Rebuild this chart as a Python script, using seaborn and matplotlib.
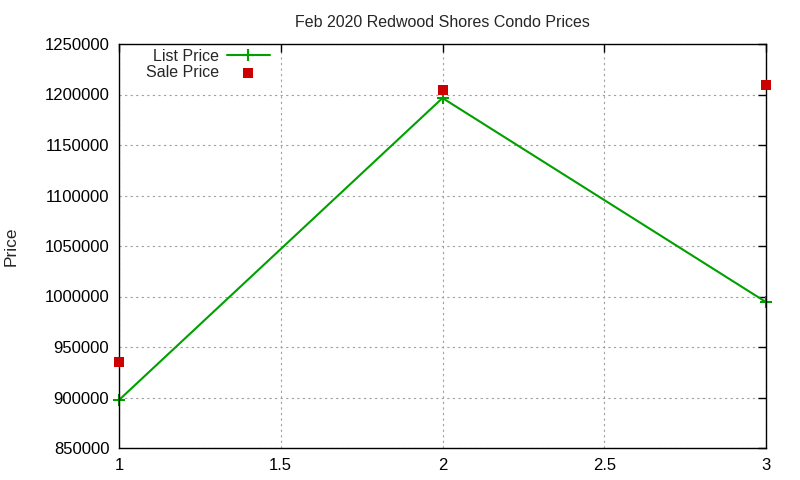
import matplotlib
matplotlib.use("Agg")
import matplotlib.pyplot as plt
import seaborn as sns
import pandas as pd
from matplotlib.ticker import FixedLocator, FuncFormatter

sns.set_style("white")
plt.rcParams['font.family'] = ['Liberation Sans', 'DejaVu Sans']

x_vals = [1, 2, 3]
list_price = [897500, 1196500, 994500]
sale_price = [935000, 1204000, 1209500]
title = "Feb 2020 Redwood Shores Condo Prices"
y_ticks = [850000, 900000, 950000, 1000000, 1050000, 1100000, 1150000, 1200000, 1250000]
x_ticks = [1, 1.5, 2, 2.5, 3]
x_tick_labels = ["1", "1.5", "2", "2.5", "3"]

df_list = pd.DataFrame({"x": x_vals, "price": list_price})
df_sale = pd.DataFrame({"x": x_vals, "price": sale_price})

fig = plt.figure(figsize=(8, 4.8), dpi=100)
ax = fig.add_axes([119/800, 1-448/480, (766-119)/800, (448-44)/480])

green = "#00a000"
red = "#cc0000"
sns.lineplot(data=df_list, x="x", y="price", ax=ax, color=green, linewidth=1.5,
             marker="+", markersize=8, markeredgewidth=1.5, markeredgecolor=green,
             label="List Price", clip_on=False)
sns.scatterplot(data=df_sale, x="x", y="price", ax=ax, color=red, marker="s", s=45,
                edgecolor=red, linewidth=0, label="Sale Price", clip_on=False, zorder=5)

ax.set_xlim(1, 3)
ax.set_ylim(850000, 1250000)
ax.xaxis.set_major_locator(FixedLocator(x_ticks))
ax.set_xticklabels(x_tick_labels)
ax.yaxis.set_major_locator(FixedLocator(y_ticks))
ax.yaxis.set_major_formatter(FuncFormatter(lambda v, p: f"{int(v)}"))
ax.grid(True, color="#a0a0a0", linestyle=(0, (2, 3)), linewidth=0.8)
ax.tick_params(direction="in", top=True, right=True, length=6, width=1, labelsize=12, colors="black", pad=7)
for s in ax.spines.values():
    s.set_color("black")
    s.set_linewidth(1)
ax.set_xlabel("")
ax.set_ylabel("Price", fontsize=12.5)
ax.yaxis.set_label_coords(-0.155, 0.5)
ax.set_title(title, fontsize=11.5, pad=12)

ax.legend(loc="upper right", bbox_to_anchor=((270-119)/647, (448-49)/404), frameon=False, markerfirst=False,
          fontsize=11.5, handlelength=2.7, borderaxespad=0, borderpad=0, labelspacing=0.05, handletextpad=0.5)

fig.savefig("out.png", dpi=100)
